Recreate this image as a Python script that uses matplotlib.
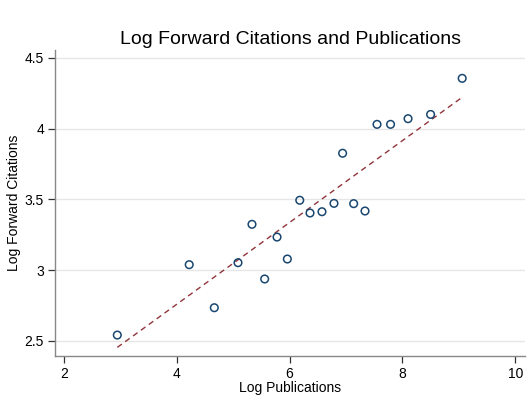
import numpy as np
import matplotlib
matplotlib.use("Agg")
import matplotlib.pyplot as plt

plt.rcParams['font.family'] = ['Liberation Sans', 'DejaVu Sans']

log_pubs = [2.945, 4.22, 4.665, 5.085, 5.333, 5.558, 5.777, 5.96, 6.18, 6.362,
            6.574, 6.787, 6.94, 7.136, 7.337, 7.55, 7.79, 8.10, 8.50, 9.06]
log_cites = [2.542, 3.039, 2.735, 3.053, 3.324, 2.938, 3.234, 3.079, 3.494, 3.404,
             3.413, 3.472, 3.826, 3.470, 3.418, 4.03, 4.03, 4.07, 4.10, 4.355]
fit_x = [2.945, 9.06]
fit_y = [2.455, 4.221]
x_ticks = [2, 4, 6, 8, 10]
y_ticks = [2.5, 3, 3.5, 4, 4.5]
y_tick_labels = ["2.5", "3", "3.5", "4", "4.5"]

fig = plt.figure(figsize=(5.30, 4.18), dpi=100)
ax = fig.add_axes([55/530, 1 - 356/418, 470/530, (356 - 50)/418])

ax.set_xlim(2 - 9/56.4, 2 + (525 - 64)/56.4)
ax.set_ylim(2.5 - 15/141.6, 2.5 + (341 - 50)/141.6)

for t in y_ticks:
    ax.axhline(t, color='#e6e6e6', lw=1.0, zorder=0)

ax.plot(fit_x, fit_y, linestyle=(0, (4, 3)), color='#90353b', lw=1.0, zorder=2)
ax.scatter(log_pubs, log_cites, s=30, facecolors='none', edgecolors='#1a476f',
           linewidths=1.1, zorder=3)

ax.set_xticks(x_ticks)
ax.set_xticklabels([str(t) for t in x_ticks])
ax.set_yticks(y_ticks)
ax.set_yticklabels(y_tick_labels)

for s in ['top', 'right']:
    ax.spines[s].set_visible(False)
for s in ['left', 'bottom']:
    ax.spines[s].set_color('#888888')
    ax.spines[s].set_linewidth(1.0)
ax.tick_params(axis='both', colors='#333333', labelcolor='black', labelsize=10, length=5, width=0.9)
ax.tick_params(axis='x', pad=3)
ax.tick_params(axis='y', pad=3)

ax.set_xlabel("Log Publications", fontsize=10, labelpad=0)
ax.set_ylabel("Log Forward Citations", fontsize=10)
ax.yaxis.set_label_coords(-0.072, 0.5)
ax.set_title("Log Forward Citations and Publications", fontsize=14, pad=4)

fig.savefig("out.png", dpi=100)
